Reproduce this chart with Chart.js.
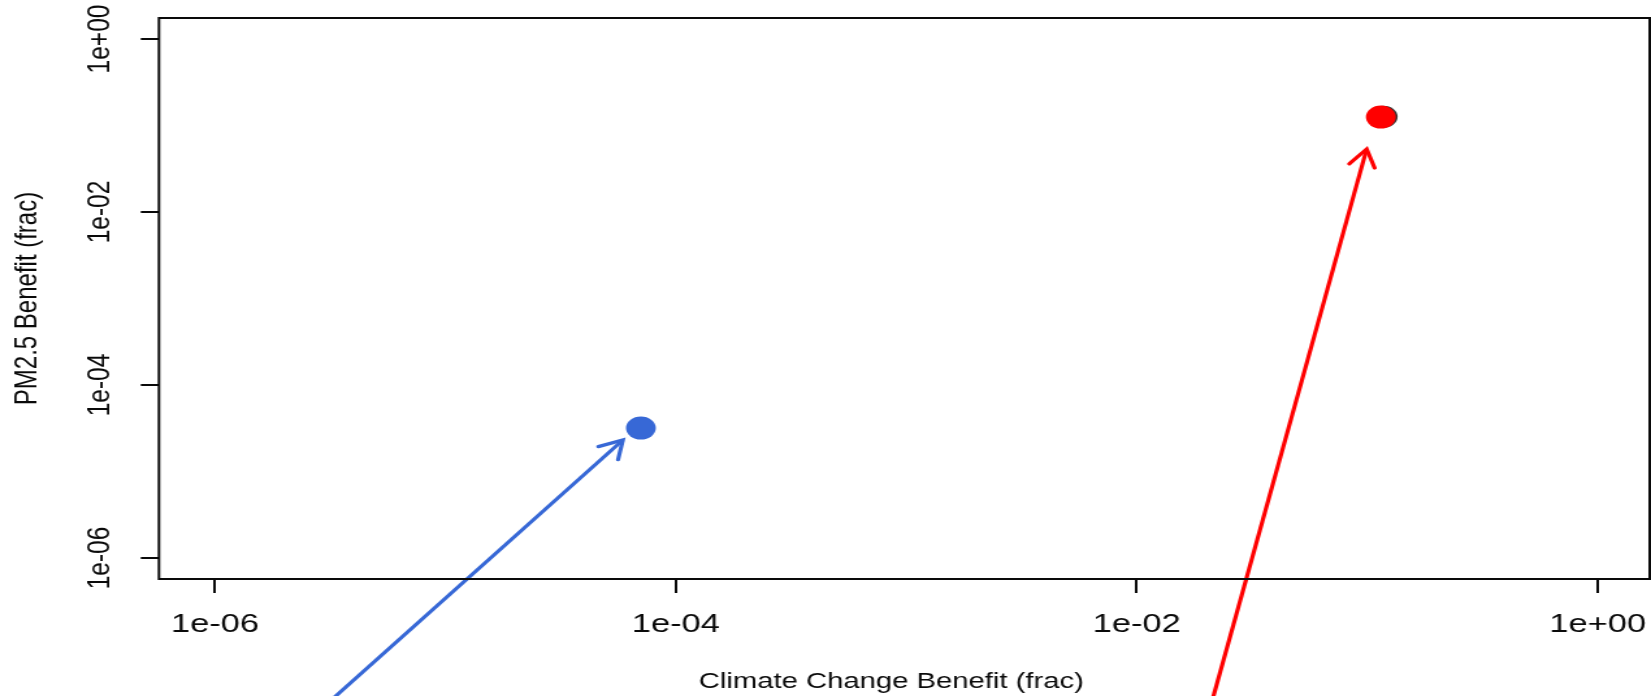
<!DOCTYPE html>
<html lang="en">
<head>
    <meta charset="UTF-8">
    <title>Climate vs PM2.5 Benefit</title>
    <script src="https://cdn.jsdelivr.net/npm/chart.js"></script>
    <style>
        html, body { margin: 0; padding: 0; background: #fff; overflow: hidden; }
        /* the original picture is stretched sideways, so draw narrow and stretch */
        #stretch { transform: scaleX(1.3); transform-origin: 0 0; width: 1270px; height: 696px; }
        #chart { display: block; }
    </style>
</head>
<body>
    <div id="stretch">
        <canvas id="chart" width="1270" height="696"></canvas>
    </div>

    <script>
        // axis ticks
        const xTickValues = [1e-6, 1e-4, 1e-2, 1];
        const xTickLabels = ['1e-06', '1e-04', '1e-02', '1e+00'];
        const yTickValues = [1e-6, 1e-4, 1e-2, 1];
        const yTickLabels = ['1e-06', '1e-04', '1e-02', '1e+00'];
        const xTitle = 'Climate Change Benefit (frac)';
        const yTitle = 'PM2.5 Benefit (frac)';

        // points
        const bluePointX = [7.05e-5];
        const bluePointY = [3.18e-5];
        const redPointX = [0.1146];
        const redPointY = [0.1253];
        const shadowPointX = [0.1175];
        const shadowPointY = [0.1265];

        // arrows: [start, tip]
        const blueArrowX = [1.46e-6, 5.89e-5];
        const blueArrowY = [3.54e-9, 2.31e-5];
        const redArrowX = [0.0175, 0.0995];
        const redArrowY = [3.54e-9, 0.0535];

        const BLUE = '#3768D6';
        const RED = '#FF0000';
        const INK = '#0a0a0a';
        const FONT = '"Liberation Sans", Arial, sans-serif';

        const toPoints = (xs, ys) => xs.map((x, i) => ({ x: x, y: ys[i] }));

        const boxPlugin = {
            id: 'box',
            afterDraw(chart) {
                const { ctx, chartArea: a } = chart;
                ctx.save();
                ctx.strokeStyle = INK;
                ctx.lineWidth = 2;
                ctx.strokeRect(a.left, a.top, a.right - a.left, a.bottom - a.top);

                // y tick labels, turned to run along the axis
                const ys = chart.scales.y;
                ctx.fillStyle = INK;
                ctx.font = '24.5px ' + FONT;
                ctx.textAlign = 'center';
                ctx.textBaseline = 'middle';
                yTickValues.forEach((v, i) => {
                    const py = ys.getPixelForValue(v);
                    ctx.save();
                    ctx.translate(a.left - 45, py);
                    ctx.rotate(-Math.PI / 2);
                    ctx.fillText(yTickLabels[i], 0, 0);
                    ctx.restore();
                });

                // x axis title, a little left of the plot centre as in the original
                ctx.font = '22.5px ' + FONT;
                ctx.fillText(xTitle, (a.left + a.right) / 2 - 10, a.bottom + 103);
                ctx.restore();
            }
        };

        const arrowHeads = {
            id: 'arrowHeads',
            afterDatasetsDraw(chart) {
                const ctx = chart.ctx;
                chart.data.datasets.forEach((ds, i) => {
                    if (!ds.arrow) return;
                    const pts = chart.getDatasetMeta(i).data;
                    const p0 = pts[0], p1 = pts[1];
                    const ang = Math.atan2(p1.y - p0.y, p1.x - p0.x);
                    const len = 20, spread = Math.PI / 6;
                    ctx.save();
                    ctx.strokeStyle = ds.borderColor;
                    ctx.lineWidth = 3.2;
                    ctx.lineCap = 'round';
                    ctx.beginPath();
                    ctx.moveTo(p1.x - len * Math.cos(ang - spread), p1.y - len * Math.sin(ang - spread));
                    ctx.lineTo(p1.x, p1.y);
                    ctx.lineTo(p1.x - len * Math.cos(ang + spread), p1.y - len * Math.sin(ang + spread));
                    ctx.stroke();
                    ctx.restore();
                });
            }
        };

        new Chart(document.getElementById('chart'), {
            type: 'scatter',
            data: {
                // first dataset is drawn on top
                datasets: [
                    {
                        data: toPoints(bluePointX, bluePointY),
                        backgroundColor: BLUE, borderWidth: 0, pointRadius: 11.5
                    },
                    {
                        data: toPoints(redPointX, redPointY),
                        backgroundColor: RED, borderWidth: 0, pointRadius: 11.5
                    },
                    {
                        data: toPoints(shadowPointX, shadowPointY),
                        backgroundColor: '#333', borderWidth: 0, pointRadius: 11
                    },
                    {
                        data: toPoints(blueArrowX, blueArrowY),
                        showLine: true, arrow: true, clip: false,
                        borderColor: BLUE, borderWidth: 3.2, pointRadius: 0
                    },
                    {
                        data: toPoints(redArrowX, redArrowY),
                        showLine: true, arrow: true, clip: false,
                        borderColor: RED, borderWidth: 3.2, pointRadius: 0
                    }
                ]
            },
            options: {
                responsive: false,
                animation: false,
                devicePixelRatio: 1,
                layout: { autoPadding: false, padding: { left: 0, right: 1, top: 18, bottom: 0 } },
                plugins: { legend: { display: false }, tooltip: { enabled: false } },
                scales: {
                    x: {
                        type: 'logarithmic',
                        position: 'bottom',
                        min: Math.pow(10, -6.243),
                        max: Math.pow(10, 0.226),
                        afterBuildTicks: s => { s.ticks = xTickValues.map(v => ({ value: v })); },
                        afterFit: s => { s.height = 117; s.paddingLeft = 0; s.paddingRight = 0; },
                        border: { display: false },
                        grid: { drawOnChartArea: false, drawTicks: true, tickLength: 14, color: INK, lineWidth: 2 },
                        ticks: {
                            autoSkip: false, maxRotation: 0, padding: 16, color: INK,
                            font: { family: FONT, size: 26.5 },
                            callback: (v, i) => xTickLabels[i]
                        },
                        title: { display: false }
                    },
                    y: {
                        type: 'logarithmic',
                        position: 'left',
                        min: Math.pow(10, -6.243),
                        max: Math.pow(10, 0.243),
                        afterBuildTicks: s => { s.ticks = yTickValues.map(v => ({ value: v })); },
                        afterFit: s => { s.width = 122.3; },
                        border: { display: false },
                        grid: { drawOnChartArea: false, drawTicks: true, tickLength: 14, color: INK, lineWidth: 2 },
                        ticks: { display: false },
                        title: {
                            display: true, text: yTitle, color: INK,
                            font: { family: FONT, size: 24, lineHeight: 1.2 },
                            padding: { top: 7, bottom: 0 }
                        }
                    }
                }
            },
            plugins: [boxPlugin, arrowHeads]
        });
    </script>
</body>
</html>
